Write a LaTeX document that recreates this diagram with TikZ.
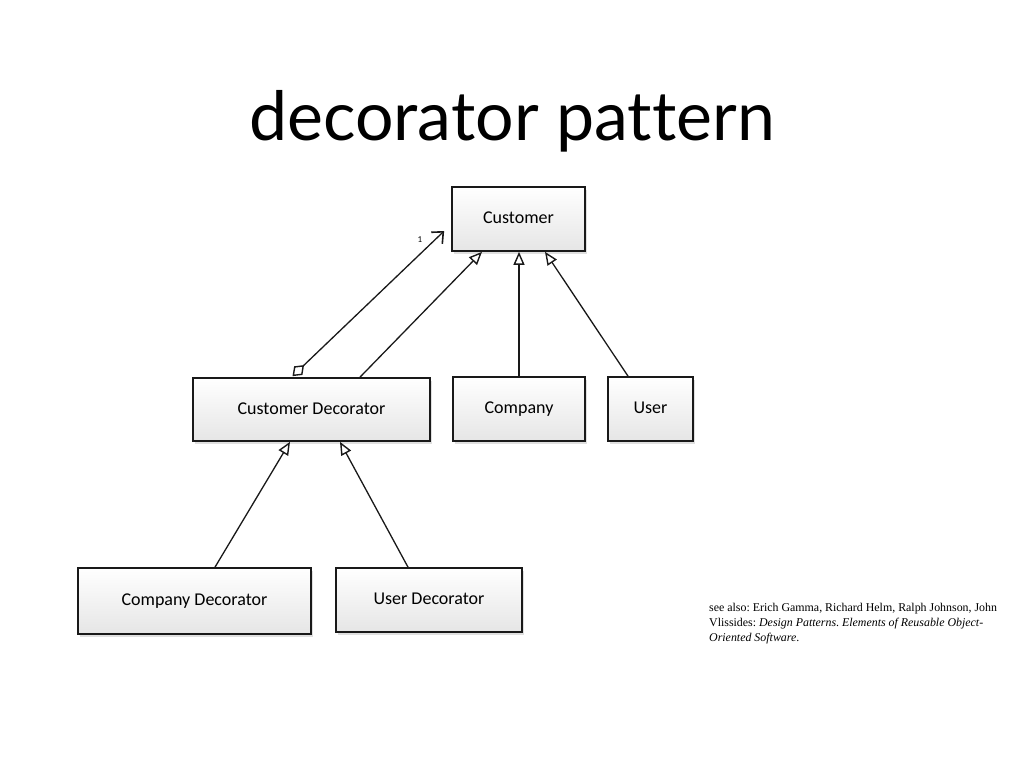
\documentclass[tikz,border=0pt]{standalone}
\usepackage{fontspec}
\setmainfont{Liberation Serif}
\newfontfamily\titlefont[Ligatures=NoCommon]{Lato}
\newfontfamily\boxfont{Carlito}
\usetikzlibrary{arrows.meta,shadows}
\frenchspacing
\tikzset{
  umlbox/.style={draw=black!90, line width=1.7pt, top color=white, bottom color=black!10,
    drop shadow={opacity=0.25, shadow xshift=2pt, shadow yshift=-2.5pt},
    font=\boxfont\fontsize{18}{20}\selectfont, inner sep=0pt, text height=12pt, text depth=3pt},
  inherit/.style={draw=black!90, line width=1.3pt, -{Triangle[open, length=13pt, width=11pt, line width=1.4pt]}},
  assoc/.style={draw=black!90, line width=1.3pt, {Diamond[open, length=16pt, width=12pt, line width=1.4pt]}-{Straight Barb[length=9pt, width=16pt, line width=1.6pt]}},
}
\begin{document}
\begin{tikzpicture}[x=1pt, y=-1pt]
\useasboundingbox (0,0) rectangle (1024,768);
\fill[white] (0,0) rectangle (1024,768);

\node[font=\titlefont\fontsize{68}{80}\selectfont, anchor=base] (title) at (512,140) {decorator pattern};

\node[umlbox, minimum width=133pt, minimum height=64pt] (cust) at (518.5,219) {Customer};
\node[umlbox, minimum width=237pt, minimum height=63pt] (cd) at (311.5,409.5) {Customer Decorator};
\node[umlbox, minimum width=132pt, minimum height=64pt] (comp) at (519,409) {Company};
\node[umlbox, minimum width=85pt, minimum height=64pt] (user) at (650.5,409) {User};
\node[umlbox, minimum width=233pt, minimum height=66pt] (compdec) at (194.5,601) {Company Decorator};
\node[umlbox, minimum width=186pt, minimum height=64pt] (userdec) at (429,600) {User Decorator};

\coordinate (aggS) at ([xshift=-19pt, yshift=1pt]cd.north);
\coordinate (aggE) at ([xshift=-7pt, yshift=-12pt]cust.west);
\draw[assoc] (aggS) -- (aggE);
\node[font=\boxfont\fontsize{9}{10}\selectfont] (mult) at (420,240) {1};

\draw[inherit] ([xshift=48.5pt]cd.north) -- ([xshift=-36.5pt]cust.south);
\draw[inherit] (comp.north) -- (comp.north |- cust.south);
\draw[inherit] ([xshift=-22.5pt]user.north) -- ([xshift=26.5pt]cust.south);
\draw[inherit] ([xshift=20.5pt]compdec.north) -- ([xshift=-21.5pt]cd.south);
\draw[inherit] ([xshift=-21pt]userdec.north) -- ([xshift=28.5pt]cd.south);

\node[anchor=north west, align=left, inner sep=0pt, font=\fontsize{11.9}{15}\selectfont] (cite) at (709,603)
  {see also: Erich Gamma, Richard Helm, Ralph Johnson, John\\
   Vlissides: \textit{Design Patterns}. \textit{Elements of Reusable Object-}\\
   \textit{Oriented Software}.};
\end{tikzpicture}
\end{document}
